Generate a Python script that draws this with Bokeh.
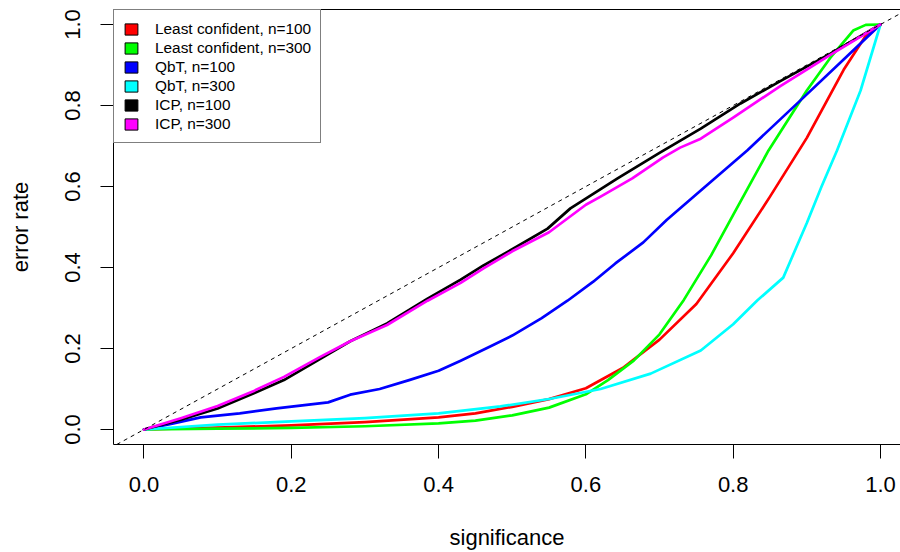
from bokeh.plotting import figure
from bokeh.models import Range1d, FixedTicker, LinearAxis, Legend, LegendItem, Slope
from bokeh.embed import file_html
from bokeh.resources import INLINE

# ---- data ----
lc100_x = [0, 0.1, 0.2, 0.3, 0.4, 0.45, 0.5, 0.55, 0.6, 0.65, 0.7, 0.75, 0.8, 0.85, 0.9, 0.95, 0.98, 1.0]
lc100_y = [0, 0.005, 0.01, 0.018, 0.03, 0.04, 0.056, 0.075, 0.102, 0.152, 0.222, 0.31, 0.435, 0.575, 0.72, 0.888, 0.972, 1.0]

lc300_x = [0, 0.1, 0.2, 0.3, 0.4, 0.45, 0.5, 0.55, 0.6, 0.63, 0.665, 0.7, 0.733, 0.77, 0.8, 0.848, 0.9, 0.932, 0.963, 0.98, 1.0]
lc300_y = [0, 0.002, 0.004, 0.008, 0.015, 0.022, 0.035, 0.054, 0.087, 0.122, 0.17, 0.235, 0.32, 0.43, 0.53, 0.689, 0.837, 0.918, 0.985, 0.999, 1.0]

qbt100_x = [0, 0.04, 0.077, 0.13, 0.18, 0.25, 0.28, 0.32, 0.36, 0.4, 0.43, 0.47, 0.5, 0.54, 0.575, 0.61, 0.64, 0.678, 0.71, 0.756, 0.819, 0.891, 0.955, 1.0]
qbt100_y = [0, 0.015, 0.03, 0.04, 0.052, 0.067, 0.086, 0.1, 0.122, 0.145, 0.17, 0.205, 0.232, 0.275, 0.318, 0.365, 0.41, 0.462, 0.518, 0.59, 0.689, 0.812, 0.922, 1.0]

qbt300_x = [0, 0.1, 0.2, 0.3, 0.4, 0.484, 0.552, 0.62, 0.688, 0.756, 0.8, 0.833, 0.868, 0.9, 0.92, 0.941, 0.973, 1.0]
qbt300_y = [0, 0.012, 0.02, 0.028, 0.04, 0.057, 0.076, 0.1, 0.138, 0.195, 0.26, 0.319, 0.375, 0.51, 0.6, 0.689, 0.837, 1.0]

icp100_x = [0, 0.05, 0.1, 0.15, 0.19, 0.24, 0.28, 0.33, 0.385, 0.43, 0.461, 0.5, 0.548, 0.579, 0.643, 0.7, 0.756, 0.81, 0.864, 0.932, 1.0]
icp100_y = [0, 0.024, 0.052, 0.09, 0.122, 0.175, 0.218, 0.262, 0.323, 0.37, 0.405, 0.445, 0.496, 0.546, 0.62, 0.683, 0.743, 0.805, 0.86, 0.928, 1.0]

icp300_x = [0, 0.05, 0.1, 0.15, 0.19, 0.24, 0.28, 0.33, 0.385, 0.43, 0.461, 0.5, 0.55, 0.6, 0.62, 0.663, 0.705, 0.728, 0.756, 0.8, 0.864, 0.932, 1.0]
icp300_y = [0, 0.028, 0.058, 0.096, 0.13, 0.18, 0.218, 0.258, 0.318, 0.362, 0.398, 0.44, 0.487, 0.555, 0.575, 0.62, 0.672, 0.696, 0.718, 0.77, 0.848, 0.925, 1.0]

series_names = ["Least confident, n=100", "Least confident, n=300", "QbT, n=100",
                "QbT, n=300", "ICP, n=100", "ICP, n=300"]
series_colors = ["#ff0000", "#00ff00", "#0000ff", "#00ffff", "#000000", "#ff00ff"]

tick_values = [0.0, 0.2, 0.4, 0.6, 0.8, 1.0]
tick_labels = ["0.0", "0.2", "0.4", "0.6", "0.8", "1.0"]

x_title = "significance"
y_title = "error rate"

# ---- figure ----
FONT = "Liberation Sans"

p = figure(width=900, height=552, output_backend="svg", toolbar_location=None,
           x_range=Range1d(-0.0414, 1.0272), y_range=Range1d(-0.037, 1.037),
           min_border_left=113, min_border_right=0, min_border_top=9, min_border_bottom=108,
           x_axis_label=x_title, y_axis_label=y_title)
p.grid.visible = False
p.outline_line_color = None
p.background_fill_color = "white"
p.border_fill_color = "white"

overrides = {v: s for v, s in zip(tick_values, tick_labels)}
for ax in (p.xaxis[0], p.yaxis[0]):
    ax.ticker = FixedTicker(ticks=tick_values)
    ax.major_label_overrides = overrides
    ax.minor_tick_line_color = None
    ax.major_tick_in = 0
    ax.axis_line_color = "black"
    ax.major_tick_line_color = "black"
    ax.major_label_text_font = FONT
    ax.major_label_text_font_size = "22px"
    ax.major_label_text_color = "black"
    ax.axis_label_text_font = FONT
    ax.axis_label_text_font_size = "22px"
    ax.axis_label_text_font_style = "normal"
    ax.axis_label_text_color = "black"

p.xaxis[0].major_tick_out = 14
p.xaxis[0].major_label_standoff = 18
p.xaxis[0].axis_label_standoff = 30
p.yaxis[0].major_tick_out = 13
p.yaxis[0].major_label_standoff = 20
p.yaxis[0].major_label_orientation = "vertical"
p.yaxis[0].axis_label_standoff = 30

top = LinearAxis(ticker=FixedTicker(ticks=[]), major_label_text_font_size="0px",
                 major_tick_out=0, major_tick_in=0, minor_tick_out=0, minor_tick_in=0,
                 major_label_standoff=0, axis_line_color="black")
p.add_layout(top, "above")

xs = [lc100_x, lc300_x, qbt100_x, qbt300_x, icp100_x, icp300_x]
ys = [lc100_y, lc300_y, qbt100_y, qbt300_y, icp100_y, icp300_y]
for x, y, c in zip(xs, ys, series_colors):
    p.line(x, y, line_color=c, line_width=2.7, line_join="round", line_cap="round")

p.add_layout(Slope(gradient=1, y_intercept=0, line_color="black", line_width=1, line_dash="4 4"))

nan = float("nan")
items = []
for name, c in zip(series_names, series_colors):
    r = p.quad(left=[nan], right=[nan], top=[nan], bottom=[nan],
               fill_color=c, line_color="black", line_width=1)
    items.append(LegendItem(label=name, renderers=[r]))

legend = Legend(items=items, location="top_left", margin=0, padding=9,
                spacing=0, glyph_width=16, glyph_height=14, label_height=19,
                label_standoff=16, label_text_font=FONT, label_text_font_size="15.4px",
                label_text_color="black", border_line_color="black", border_line_width=1,
                background_fill_color="white", background_fill_alpha=1)
p.add_layout(legend)

open("out.html", "w").write(file_html(p, INLINE))
